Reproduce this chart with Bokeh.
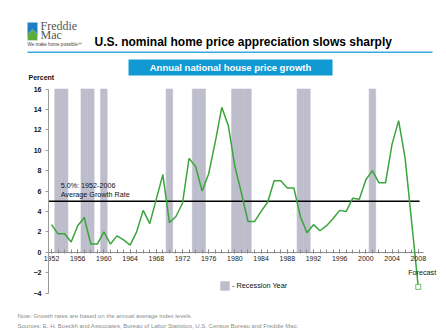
from bokeh.plotting import figure
from bokeh.models import (Range1d, FixedTicker, Label, BoxAnnotation, PolyAnnotation,
                          Legend, LegendItem)
from bokeh.embed import file_html
from bokeh.resources import INLINE

# ---------------- data ----------------
years = list(range(1952, 2009))
growth = [2.7, 1.8, 1.8, 1.0, 2.6, 3.4, 0.8, 0.8, 2.0, 0.8,
          1.6, 1.2, 0.7, 2.0, 4.1, 2.8, 5.2, 7.6, 2.9, 3.5,
          4.8, 9.2, 8.4, 6.0, 7.7, 10.8, 14.2, 12.4, 8.4, 5.8,
          3.0, 3.0, 4.0, 4.9, 7.0, 7.0, 6.3, 6.3, 3.5, 1.9,
          2.7, 2.1, 2.6, 3.3, 4.1, 4.0, 5.3, 5.2, 7.1, 8.0,
          6.8, 6.8, 10.6, 12.9, 9.2, 2.9, -3.4]
recession_years = [1953, 1954, 1957, 1958, 1960, 1970, 1974, 1975,
                   1980, 1981, 1982, 1990, 1991, 2001]
recession_top = 16
forecast_year = 2008
avg_rate = 5.0
avg_end = 2008.2
avg_label = ["5.0%: 1952-2006", "Average Growth Rate"]
x_ticks = list(range(1952, 2009, 4))
y_ticks = list(range(-4, 17, 2))
x_axis_span = (1951.54, 2008.8)
y_axis_span = (-4, 16)

title = "U.S. nominal home price appreciation slows sharply"
subtitle = "Annual national house price growth"
note = "Note: Growth rates are based on the annual average index levels."
sources = ("Sources:  E. H. Boeckh and Associates, Bureau of Labor Statistics, "
           "U.S. Census Bureau and Freddie Mac.")

# ---------------- layout ----------------
W, H = 446, 330
# plot area in canvas px: left edge of y axis at 48, 0% at 251.7
XPX = 6.549      # px per year
YPX = 10.2       # px per percent
X0_PX, Y0_PX = 48, 251.7
x_lo = x_axis_span[0] - X0_PX / XPX
x_hi = x_lo + W / XPX
y_hi = Y0_PX / YPX
y_lo = y_hi - H / YPX

def sx(X):
    return X

def sy(Y):
    return H - Y

FONT = "Liberation Sans"

p = figure(width=W, height=H, output_backend="svg", toolbar_location=None,
           x_range=Range1d(x_lo, x_hi), y_range=Range1d(y_lo, y_hi),
           min_border=0, min_border_left=0, min_border_right=0,
           min_border_top=0, min_border_bottom=0)
p.outline_line_color = None
p.xgrid.visible = False
p.ygrid.visible = False
p.background_fill_color = "white"
p.border_fill_color = "white"

# recession bars
bars = p.vbar(x=recession_years, width=1.0, top=recession_top, bottom=0,
              fill_color="#bebdcc", line_color="#bebdcc", line_width=0.6)

# average line
p.segment(x0=[x_axis_span[0]], y0=[avg_rate], x1=[avg_end], y1=[avg_rate],
          line_color="black", line_width=1.6)

# growth line
p.line(years, growth, line_color="#3aa53a", line_width=1.5)
p.scatter([forecast_year], [growth[-1]], marker="square", size=5,
          fill_color="white", line_color="#6cc06c", line_width=1)

# axes
xa = p.xaxis[0]
xa.fixed_location = 0
xa.bounds = x_axis_span
xa.ticker = FixedTicker(ticks=x_ticks, minor_ticks=years)
xa.axis_line_color = "#8a8a8a"
xa.major_tick_line_color = "#8a8a8a"
xa.minor_tick_line_color = "#8a8a8a"
xa.major_tick_in = 3
xa.major_tick_out = 1
xa.minor_tick_in = 3
xa.minor_tick_out = 1
xa.major_label_standoff = 3
xa.major_label_text_font = FONT
xa.major_label_text_font_size = "7px"
xa.major_label_text_color = "#222222"

ya = p.yaxis[0]
ya.fixed_location = x_axis_span[0]
ya.ticker = FixedTicker(ticks=y_ticks)
ya.bounds = y_axis_span
ya.axis_line_color = "#9a9a9a"
ya.major_tick_line_color = "#9a9a9a"
ya.minor_tick_line_color = None
ya.major_tick_in = 0
ya.major_tick_out = 3
ya.major_label_standoff = 4
ya.major_label_text_font = FONT
ya.major_label_text_font_size = "7px"
ya.major_label_text_font_style = "bold"
ya.major_label_text_color = "#111111"

# legend
legend = Legend(items=[LegendItem(label="- Recession Year", renderers=[bars])],
                location=(sx(219), sy(291)), orientation="horizontal",
                glyph_width=11, glyph_height=11, label_standoff=2,
                padding=0, margin=0, spacing=0,
                border_line_color=None, background_fill_alpha=0,
                label_text_font=FONT, label_text_font_size="7.3px",
                label_text_color="#111111", label_height=11)
p.add_layout(legend, "center")

def lab(text, X, Y, size, color="#111111", style="normal", align="left",
        baseline="middle", font=FONT, units="screen"):
    if units == "screen":
        l = Label(x=sx(X), y=sy(Y), x_units="screen", y_units="screen", text=text)
    else:
        l = Label(x=X, y=Y, text=text)
    l.text_font = font
    l.text_font_size = size
    l.text_color = color
    l.text_font_style = style
    l.text_align = align
    l.text_baseline = baseline
    p.add_layout(l)
    return l

# average annotation (data units)
lab(avg_label[0], 1953.4, 6.57, "7.2px", units="data")
lab(avg_label[1], 1953.4, 5.66, "7.2px", units="data")
lab("Forecast", forecast_year + 0.6, -1.95, "7.2px", align="center", units="data")

# percent label
lab("Percent", 28, 77, "7px", style="bold")

def sbox(l, r, t, b, color):
    p.add_layout(BoxAnnotation(left=sx(l), right=sx(r), top=sy(t), bottom=sy(b),
                               left_units="screen", right_units="screen",
                               top_units="screen", bottom_units="screen",
                               fill_color=color, line_color=None, fill_alpha=1))

# title area
lab(title, 94, 41, "12px", style="bold", color="black")
sbox(27, 432, 51, 52.5, "#36a9e1")
sbox(128, 332, 59, 75, "#1199d4")
lab(subtitle, 230, 67, "9.5px", style="bold", color="white", align="center")

# logo
sbox(27, 37, 22, 36, "#1f7fc4")
p.add_layout(PolyAnnotation(xs=[sx(27), sx(27), sx(32), sx(37), sx(37)],
                            ys=[sy(40), sy(34), sy(29), sy(34), sy(40)],
                            xs_units="screen", ys_units="screen",
                            fill_color="#5aaa3c", line_color="white", line_width=1,
                            fill_alpha=1))
lab("Freddie", 40, 25.5, "12px", color="#555555", font="Liberation Serif")
lab("Mac", 40, 34, "12px", color="#555555", font="Liberation Serif")
lab("We make home possible\u2120", 27, 44, "4.6px", color="#444444")

# footnotes
lab(note, 17, 315, "6px", color="#8c8c8c")
lab(sources, 17, 325, "6px", color="#8c8c8c")

open("out.html", "w").write(file_html(p, INLINE))
